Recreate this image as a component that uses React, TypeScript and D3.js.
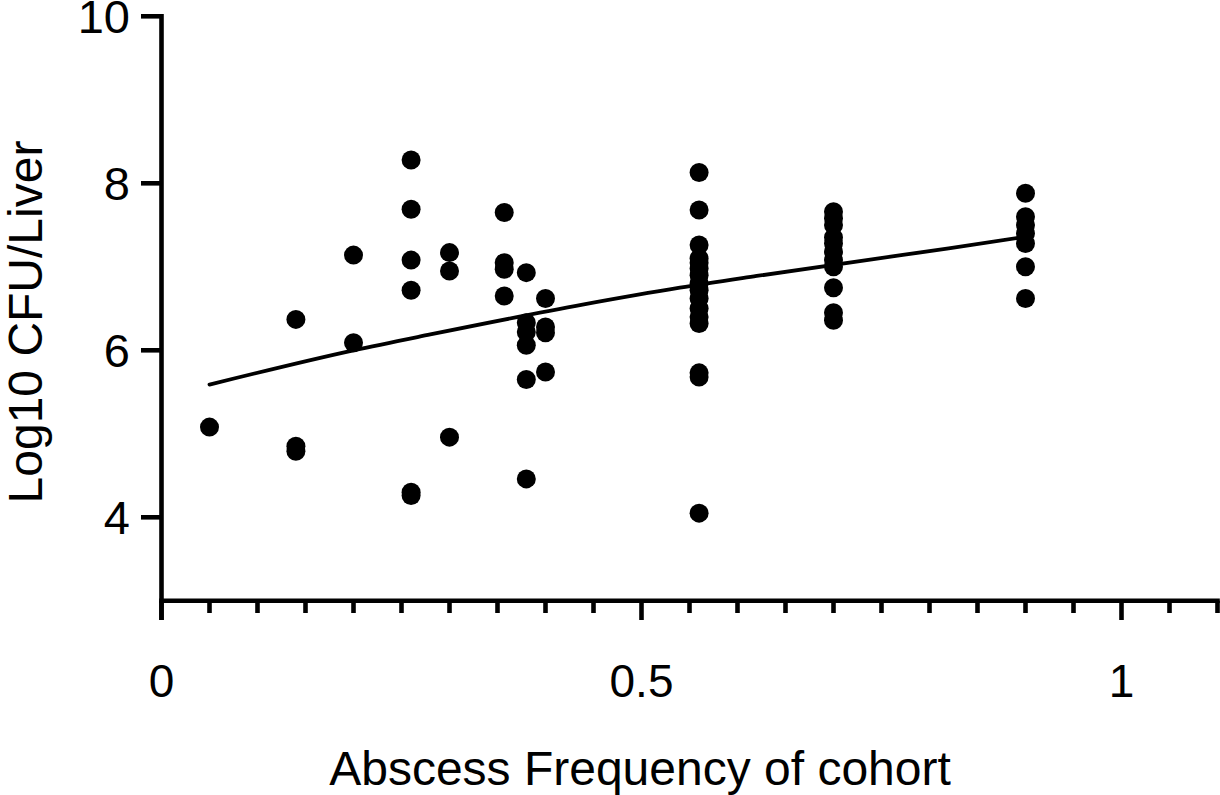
import React from "react";
import * as d3 from "d3";

const columnX: number[] = [0.05, 0.14, 0.2, 0.26, 0.3, 0.357, 0.38, 0.4, 0.56, 0.7, 0.9];
const col005: number[] = [5.08];
const col014: number[] = [6.37, 4.85, 4.79];
const col020: number[] = [7.14, 6.09];
const col026: number[] = [8.28, 7.69, 7.08, 6.72, 4.3, 4.26];
const col030: number[] = [7.17, 6.95, 4.96];
const col0357: number[] = [7.65, 7.05, 6.97, 6.65];
const col038: number[] = [6.93, 6.33, 6.22, 6.06, 5.65, 4.46];
const col040: number[] = [6.62, 6.28, 6.21, 5.74];
const col056: number[] = [8.13, 7.68, 7.26, 7.1, 7.05, 6.98, 6.9, 6.8, 6.72, 6.62, 6.5, 6.4, 6.32, 5.73, 5.68, 4.05];
const col070: number[] = [7.66, 7.58, 7.5, 7.35, 7.28, 7.18, 7.08, 7.0, 6.75, 6.45, 6.36];
const col090: number[] = [7.88, 7.6, 7.5, 7.4, 7.28, 7.0, 6.62];
const columns: number[][] = [col005, col014, col020, col026, col030, col0357, col038, col040, col056, col070, col090];

const fitX: number[] = [0.05, 0.2, 0.28, 0.44, 0.54, 0.62, 0.74, 0.82, 0.9];
const fitY: number[] = [5.59, 6.0, 6.19, 6.55, 6.75, 6.89, 7.09, 7.22, 7.36];

const yTicks: number[] = [4, 6, 8, 10];
const xMajorTicks: number[] = [0, 0.5, 1];
const xMajorLabels: string[] = ["0", "0.5", "1"];
const xTitle = "Abscess Frequency of cohort";
const yTitle = "Log10 CFU/Liver";

export default function App() {
  const x = d3.scaleLinear().domain([0, 1.1]).range([161.5, 1217.5]);
  const y = d3.scaleLinear().domain([3, 10]).range([600.8, 16.3]);
  const font = "'Liberation Sans', Arial, Helvetica, sans-serif";
  const axisW = 4.6;
  const minorTicks = d3.range(0, 23).map((i) => i * 0.05).filter((v) => Math.abs(v * 2 - Math.round(v * 2)) > 1e-6);
  const points: { x: number; y: number }[] = [];
  columns.forEach((col, i) => col.forEach((v) => points.push({ x: columnX[i], y: v })));
  const line = d3
    .line<number>()
    .x((_, i) => x(fitX[i]))
    .y((d) => y(d))
    .curve(d3.curveMonotoneX);

  return (
    <svg width={1220} height={795} style={{ position: "absolute", left: 0, top: 0, background: "#fff" }}>
      {/* y axis */}
      <line x1={x(0)} x2={x(0)} y1={y(10) - axisW / 2} y2={620} stroke="#000" strokeWidth={axisW} />
      {yTicks.map((t) => (
        <g key={t}>
          <line x1={141} x2={x(0)} y1={y(t)} y2={y(t)} stroke="#000" strokeWidth={axisW} />
          <text x={130} y={y(t)} dy="0.36em" textAnchor="end" fontFamily={font} fontSize={47} fill="#000">
            {t}
          </text>
        </g>
      ))}
      {/* x axis */}
      <line x1={x(0) - axisW / 2} x2={x(1.1) + axisW / 2} y1={y(3)} y2={y(3)} stroke="#000" strokeWidth={axisW} />
      {xMajorTicks.map((t, i) => (
        <g key={t}>
          <line x1={x(t)} x2={x(t)} y1={y(3)} y2={620} stroke="#000" strokeWidth={axisW} />
          <text x={x(t)} y={697} textAnchor="middle" fontFamily={font} fontSize={46} fill="#000">
            {xMajorLabels[i]}
          </text>
        </g>
      ))}
      {minorTicks.map((t) => (
        <line key={t} x1={x(t)} x2={x(t)} y1={y(3)} y2={613} stroke="#000" strokeWidth={axisW} />
      ))}
      {/* titles */}
      <text x={640} y={785} textAnchor="middle" fontFamily={font} fontSize={48} fill="#000">
        {xTitle}
      </text>
      <text
        transform={`translate(42, ${322}) rotate(-90)`}
        textAnchor="middle"
        fontFamily={font}
        fontSize={48}
        fill="#000"
      >
        {yTitle}
      </text>
      {/* fit line */}
      <path d={line(fitY) || ""} fill="none" stroke="#000" strokeWidth={3.8} strokeLinecap="round" />
      {/* points */}
      {points.map((p, i) => (
        <circle key={i} cx={x(p.x)} cy={y(p.y)} r={9.5} fill="#000" />
      ))}
    </svg>
  );
}
